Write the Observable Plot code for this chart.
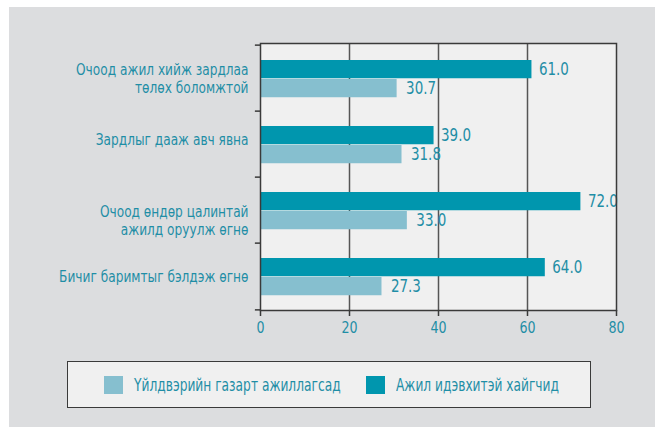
<!DOCTYPE html>
<html>
<head>
<meta charset="utf-8">
<script src="https://cdn.jsdelivr.net/npm/d3@7"></script>
<script src="https://cdn.jsdelivr.net/npm/@observablehq/plot@0.6"></script>
<style>
  html, body { margin: 0; padding: 0; background: #ffffff; }
  body { width: 655px; height: 427px; position: relative; overflow: hidden;
         font-family: "DejaVu Sans Condensed", "DejaVu Sans", sans-serif; }
  #wrap { position: absolute; left: 9px; top: 7px; width: 646px; height: 420px; background: #dcdddf; }
  #chart { position: absolute; left: 0; top: 0; }
  #legend { position: absolute; left: 58px; top: 354px; width: 522px; height: 45px;
            background: #f0f0f0; border: 1.5px solid #3a3a3a; }
  .item { position: absolute; top: 0; height: 45px; display: flex; align-items: center;
          color: #1f8ea6; font-size: 17px; white-space: nowrap; }
  .sw { width: 19px; height: 18px; margin-right: 11px; flex: none; }
  .lt { display: inline-block; transform: scaleX(0.8); transform-origin: left center; }
</style>
</head>
<body>
<div id="wrap">
  <div id="chart"></div>
  <div id="legend"></div>
</div>
<script>
const categories = [
  "Очоод ажил хийж зардлаа\nтөлөх боломжтой",
  "Зардлыг дааж авч явна",
  "Очоод өндөр цалинтай\nажилд оруулж өгнө",
  "Бичиг баримтыг бэлдэж өгнө"
];
const seriesNames = ["Үйлдвэрийн газарт ажиллагсад", "Ажил идэвхитэй хайгчид"];
const employed = [30.7, 31.8, 33.0, 27.3];
const seekers = [61.0, 39.0, 72.0, 64.0];
const xTicks = [0, 20, 40, 60, 80];

const colors = { [seriesNames[0]]: "#86bfcf", [seriesNames[1]]: "#0096ae" };
const textColor = "#1f8ea6";

const rowsSeek = categories.map((c, i) => ({ cat: c, v: seekers[i] }));
const rowsEmp = categories.map((c, i) => ({ cat: c, v: employed[i] }));

const W = 646, H = 345;
const mTop = 36, mBottom = 42;
const bw = (H - mTop - mBottom) / categories.length;
const font = "'DejaVu Sans Condensed', 'DejaVu Sans', sans-serif";

function catLabel(filter, dy) {
  return Plot.text(categories, { filter, y: d => d, frameAnchor: "left", textAnchor: "end", dx: -12, dy,
    fill: textColor, fontSize: 16.5, lineHeight: 1.06, className: "cond-cat" });
}

const chart = Plot.plot({
  width: W,
  height: H,
  marginLeft: 251,
  marginRight: 39,
  marginTop: mTop,
  marginBottom: mBottom,
  style: { background: "transparent", fontFamily: font, fontSize: "15px" },
  x: { domain: [0, 80], ticks: xTicks, axis: null },
  y: { domain: categories, padding: 0, axis: null },
  marks: [
    Plot.frame({ fill: "#f0f0f0", stroke: "none" }),
    Plot.ruleX(xTicks.slice(1, -1), { stroke: "#555", strokeWidth: 1.5 }),
    Plot.barX(rowsSeek, { y: "cat", x: "v", fill: colors[seriesNames[1]], insetTop: 15, insetBottom: bw - 34 }),
    Plot.barX(rowsEmp, { y: "cat", x: "v", fill: colors[seriesNames[0]], insetTop: 34, insetBottom: bw - 53 }),
    Plot.text(rowsSeek, { y: "cat", x: "v", text: d => d.v.toFixed(1), textAnchor: "start", dx: 7, dy: -8.5, fill: textColor, fontSize: 17, className: "cond-num" }),
    Plot.text(rowsEmp, { y: "cat", x: "v", text: d => d.v.toFixed(1), textAnchor: "start", dx: 9, dy: 10.5, fill: textColor, fontSize: 17, className: "cond-num" }),
    Plot.frame({ stroke: "#3a3a3a", strokeWidth: 1.5 }),
    Plot.ruleY(categories, { y: d => d, x1: -1.15, x2: 0, dy: -bw / 2, stroke: "#3a3a3a", strokeWidth: 1.5 }),
    Plot.ruleY(categories.slice(-1), { y: d => d, x1: -1.15, x2: 0, dy: bw / 2, stroke: "#3a3a3a", strokeWidth: 1.5 }),
    catLabel((d, i) => i === 0 || i === 3, 0),
    catLabel((d, i) => i === 1, -5),
    catLabel((d, i) => i === 2, 10),
    Plot.axisX(xTicks, { tickSize: 6, tickPadding: 5, stroke: "#3a3a3a", strokeWidth: 1.5, fill: textColor, fontSize: 16, label: null, className: "cond-num" })
  ]
});
document.getElementById("chart").appendChild(chart);

// condense text horizontally to mimic the narrow typeface of the original
function condense(selector, sx) {
  chart.querySelectorAll(selector).forEach(g => {
    g.querySelectorAll("text").forEach(t => {
      const tr = t.getAttribute("transform") || "";
      t.setAttribute("transform", tr + ` scale(${sx},1)`);
    });
  });
}
condense(".cond-cat", 0.82);
condense(".cond-num", 0.88);

const legend = document.getElementById("legend");
const legendLeft = [36, 298];
seriesNames.forEach((name, i) => {
  const item = document.createElement("div");
  item.className = "item";
  item.style.left = legendLeft[i] + "px";
  const sw = document.createElement("span");
  sw.className = "sw";
  sw.style.background = colors[name];
  const t = document.createElement("span");
  t.className = "lt";
  t.textContent = name;
  item.appendChild(sw);
  item.appendChild(t);
  legend.appendChild(item);
});
</script>
</body>
</html>
